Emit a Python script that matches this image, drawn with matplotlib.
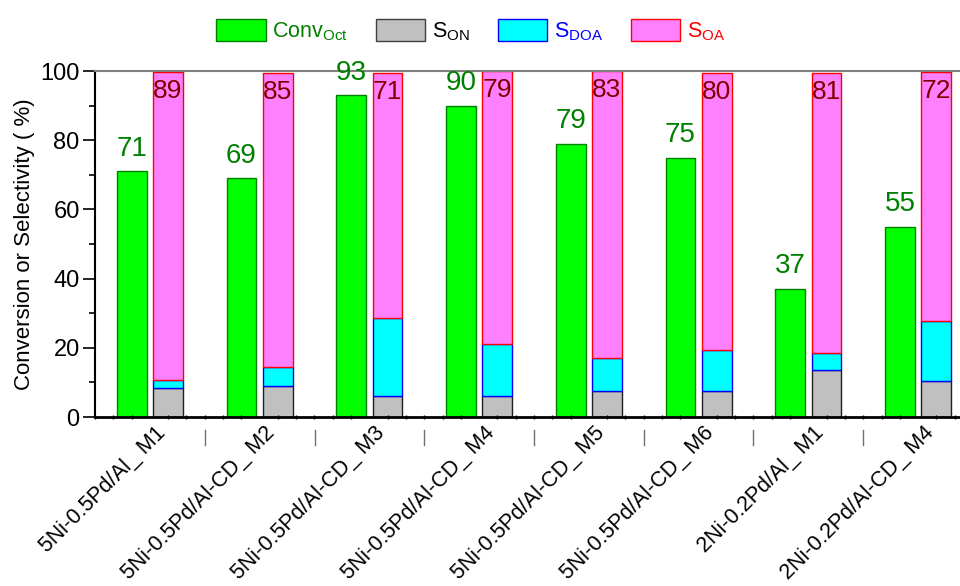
import numpy as np
import matplotlib
matplotlib.use("Agg")
import matplotlib.pyplot as plt
import matplotlib.transforms as mtransforms
from matplotlib.patches import Patch
from matplotlib.ticker import MultipleLocator

categories = ["5Ni-0.5Pd/Al_ M1", "5Ni-0.5Pd/Al-CD_ M2", "5Ni-0.5Pd/Al-CD_ M3",
              "5Ni-0.5Pd/Al-CD_ M4", "5Ni-0.5Pd/Al-CD_ M5", "5Ni-0.5Pd/Al-CD_ M6",
              "2Ni-0.2Pd/Al_ M1", "2Ni-0.2Pd/Al-CD_ M4"]
conv_oct = [71, 69, 93, 90, 79, 75, 37, 55]
s_on = [8.4, 9.0, 6.2, 6.0, 7.4, 7.6, 13.5, 10.4]
s_doa = [2.2, 5.5, 22.3, 15.0, 9.6, 11.8, 4.9, 17.4]
s_oa = [89, 85, 71, 79, 83, 80, 81, 72]

FONT = ["Liberation Sans Narrow", "Liberation Sans", "DejaVu Sans"]
plt.rcParams["font.family"] = FONT
plt.rcParams["mathtext.fontset"] = "custom"
plt.rcParams["mathtext.rm"] = "Liberation Sans"
plt.rcParams["mathtext.it"] = "Liberation Sans"
plt.rcParams["mathtext.default"] = "rm"

fig = plt.figure(figsize=(9.6, 5.86), dpi=100)
ax = fig.add_axes([95/960, 1-417/586, (973-95)/960, (417-71)/586])

x = np.arange(len(categories))
w = 0.27
off = 0.165

c_green, e_green = "#00FF00", "#008000"
c_gray, e_gray = "#C0C0C0", "#202020"
c_cyan, e_cyan = "#00FFFF", "#0000FF"
c_pink, e_pink = "#FF80FF", "#FF0000"

ax.bar(x - off, conv_oct, w, color=c_green, edgecolor=e_green, linewidth=1)
b1 = np.array(s_on)
b2 = b1 + np.array(s_doa)
ax.bar(x + off, s_on, w, color=c_gray, edgecolor=e_gray, linewidth=1)
ax.bar(x + off, s_doa, w, bottom=b1, color=c_cyan, edgecolor=e_cyan, linewidth=1)
ax.bar(x + off, s_oa, w, bottom=b2, color=c_pink, edgecolor=e_pink, linewidth=1)

for i in range(len(categories)):
    ax.text(x[i] - off, conv_oct[i] + 2.8, f"{conv_oct[i]}", ha="center", va="bottom",
            color="#008000", fontsize=20)
    ax.text(x[i] + off, b2[i] + s_oa[i] - 2, f"{s_oa[i]}", ha="center", va="top",
            color="#800000", fontsize=19)

ax.set_xlim(-0.5, len(categories) - 0.5)
ax.set_ylim(0, 100)
ax.yaxis.set_major_locator(MultipleLocator(20))
ax.yaxis.set_minor_locator(MultipleLocator(10))
ax.tick_params(axis="y", which="major", length=9, width=1.2, direction="out",
               labelsize=17, pad=2)
ax.tick_params(axis="y", which="minor", length=4, width=1.2, direction="out")

ax.set_xticks(x)
ax.set_xticklabels(categories, rotation=45, ha="right", va="center",
                   rotation_mode="anchor", fontsize=15.5)
ax.tick_params(axis="x", which="major", length=0, pad=9)
shift = mtransforms.ScaledTranslation(12/100, 0, fig.dpi_scale_trans)
for lab in ax.get_xticklabels():
    lab.set_transform(lab.get_transform() + shift)
ax.xaxis.set_minor_locator(MultipleLocator(1/6, offset=-0.5))
ax.tick_params(axis="x", which="minor", length=3, width=1, direction="inout")

# group separator marks below axis
for b in np.arange(len(categories) - 1) + 0.5:
    ax.plot([b, b], [-0.038, -0.082], color="#707070", lw=1,
            transform=ax.get_xaxis_transform(), clip_on=False)

ax.set_ylabel("Conversion or Selectivity ( %)", fontsize=16, labelpad=4)

ax.spines["left"].set_linewidth(1.5)
ax.spines["bottom"].set_linewidth(2)
ax.spines["top"].set_color("#808080")
ax.spines["top"].set_linewidth(1.5)
ax.spines["right"].set_visible(False)

handles = [Patch(facecolor=c_green, edgecolor=e_green),
           Patch(facecolor=c_gray, edgecolor="#404040"),
           Patch(facecolor=c_cyan, edgecolor=e_cyan),
           Patch(facecolor=c_pink, edgecolor=e_pink)]
labels = [r"Conv$_{\mathrm{Oct}}$", r"S$_{\mathrm{ON}}$", r"S$_{\mathrm{DOA}}$", r"S$_{\mathrm{OA}}$"]
leg = fig.legend(handles, labels, loc="center", bbox_to_anchor=(0.49, 0.947), ncol=4,
                 frameon=False, fontsize=15.5, handlelength=2.3, handleheight=1.15,
                 handletextpad=0.3, columnspacing=1.3)
for t, c in zip(leg.get_texts(), ["#008000", "black", "#0000FF", "#FF0000"]):
    t.set_color(c)

fig.savefig("out.png", dpi=100)
